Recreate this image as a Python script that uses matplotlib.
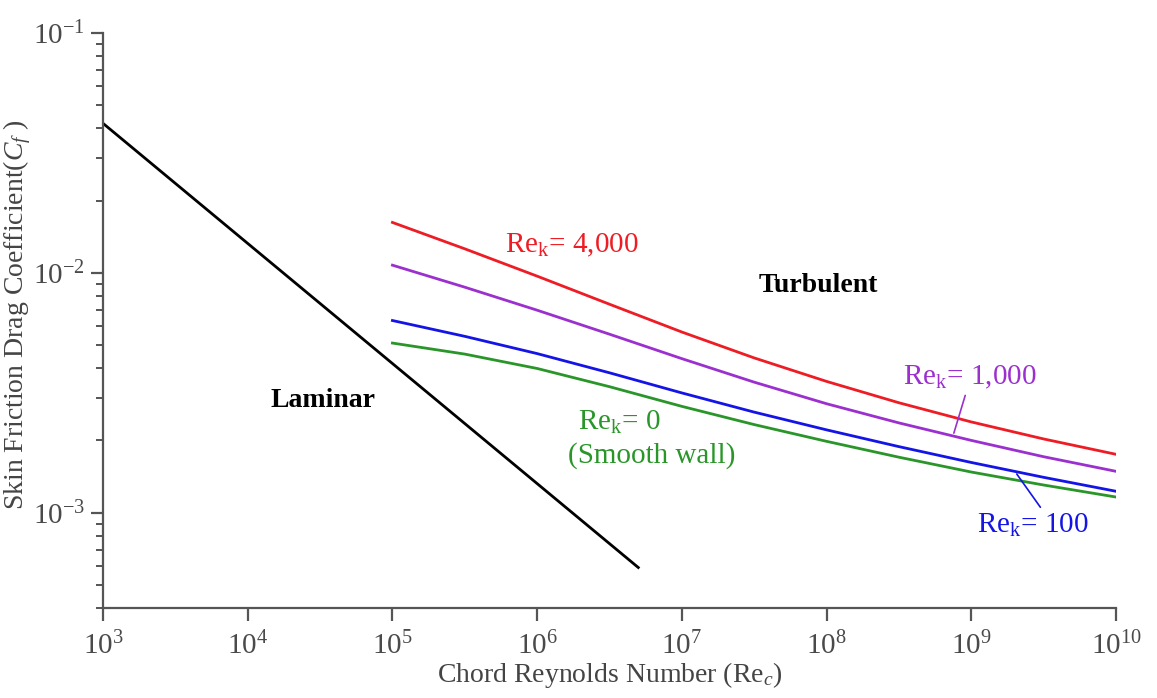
import matplotlib
matplotlib.use("Agg")
import matplotlib.pyplot as plt
from matplotlib.ticker import FixedLocator, LogLocator, NullLocator, NullFormatter

plt.rcParams["font.family"] = "Liberation Serif"
plt.rcParams["mathtext.fontset"] = "custom"
plt.rcParams["mathtext.rm"] = "Liberation Serif"
plt.rcParams["mathtext.it"] = "Liberation Serif:italic"
plt.rcParams["mathtext.bf"] = "Liberation Serif:bold"

# laminar line (end points)
re_lam = [1e3, 5e6]
cf_lam = [0.042, 5.9e-4]

# turbulent curves, read at half decades
re_turb = [1e5, 3.16e5, 1e6, 3.16e6, 1e7, 3.16e7, 1e8, 3.16e8, 1e9, 3.16e9, 1e10]
cf_4000 = [0.01622, 0.01259, 0.009683, 0.007396, 0.005662, 0.004416, 0.003524, 0.002871, 0.002388, 0.002028, 0.001750]
cf_1000 = [0.01076, 0.008710, 0.006982, 0.005546, 0.004385, 0.003499, 0.002844, 0.002366, 0.002000, 0.001710, 0.001486]
cf_100 = [0.006324, 0.005433, 0.004603, 0.003828, 0.003155, 0.002624, 0.002213, 0.001884, 0.001618, 0.001403, 0.001227]
cf_0 = [0.005093, 0.004581, 0.003990, 0.003350, 0.002773, 0.002328, 0.001982, 0.001702, 0.001476, 0.001303, 0.001161]

x_ticks = [1e3, 1e4, 1e5, 1e6, 1e7, 1e8, 1e9, 1e10]
y_ticks = [1e-3, 1e-2, 1e-1]

red = "#ee1c24"
purple = "#9b30cf"
blue = "#1414e6"
green = "#2a962a"
grey = "#555555"

fig = plt.figure(figsize=(11.57, 6.98), dpi=100)
ax = fig.add_axes([0.08902, 0.12894, 0.87554, 0.82378])

ax.plot(re_lam, cf_lam, color="black", lw=2.0)
ax.plot(re_turb, cf_4000, color=red, lw=2.0)
ax.plot(re_turb, cf_1000, color=purple, lw=2.0)
ax.plot(re_turb, cf_100, color=blue, lw=2.0)
ax.plot(re_turb, cf_0, color=green, lw=2.0)

ax.set_xscale("log")
ax.set_yscale("log")
ax.set_xlim(1e3, 1e10)
ax.set_ylim(4e-4, 1e-1)

ax.spines["top"].set_visible(False)
ax.spines["right"].set_visible(False)
for s in ["left", "bottom"]:
    ax.spines[s].set_color(grey)
    ax.spines[s].set_linewidth(1.6)

ax.xaxis.set_major_locator(FixedLocator(x_ticks))
ax.xaxis.set_minor_locator(NullLocator())
ax.yaxis.set_major_locator(FixedLocator(y_ticks))
ax.yaxis.set_minor_locator(LogLocator(base=10, subs=range(2, 10), numticks=20))
ax.yaxis.set_minor_formatter(NullFormatter())

ax.tick_params(axis="x", which="major", direction="out", length=9, width=1.6,
               color=grey, labelcolor="#4a4a4a", labelsize=21, pad=8)
ax.tick_params(axis="y", which="major", direction="out", length=9, width=1.6,
               color=grey, labelcolor="#4a4a4a", labelsize=21, pad=4)
ax.tick_params(axis="y", which="minor", direction="out", length=5, width=1.4, color=grey)

ax.set_xlabel(r"Chord Reynolds Number (Re$_{c}$)", fontsize=20, color="#444444", labelpad=0)
ax.set_ylabel(r"Skin Friction Drag Coefficient($C_f$ )", fontsize=20, color="#444444")
ax.yaxis.set_label_coords(-0.0845, 0.51)
ax.yaxis.label.set_va("center")

# curve labels
ax.text(6.0e5, 0.01217, r"Re$_\mathrm{k}$= 4,000", color=red, fontsize=21, va="baseline")
ax.text(3.38e8, 3.41e-3, r"Re$_\mathrm{k}$= 1,000", color=purple, fontsize=21, va="baseline")
ax.text(1.10e9, 8.25e-4, r"Re$_\mathrm{k}$= 100", color=blue, fontsize=21, va="baseline")
ax.text(1.92e6, 2.22e-3, r"Re$_\mathrm{k}$= 0", color=green, fontsize=21, va="baseline")
ax.text(1.64e6, 1.615e-3, "(Smooth wall)", color=green, fontsize=21, va="baseline")

ax.annotate("", xy=(7.48e8, 2.09e-3), xytext=(9.2e8, 3.16e-3),
            arrowprops=dict(arrowstyle="-", color=purple, lw=1.2))
ax.annotate("", xy=(2.01e9, 1.48e-3), xytext=(3.08e9, 1.03e-3),
            arrowprops=dict(arrowstyle="-", color=blue, lw=1.2))

ax.text(8.73e7, 8.83e-3, "Turbulent", fontsize=20, fontweight="bold", ha="center", va="center")
ax.text(3.31e4, 2.93e-3, "Laminar", fontsize=20, fontweight="bold", ha="center", va="center")

fig.savefig("out.png", dpi=100)
